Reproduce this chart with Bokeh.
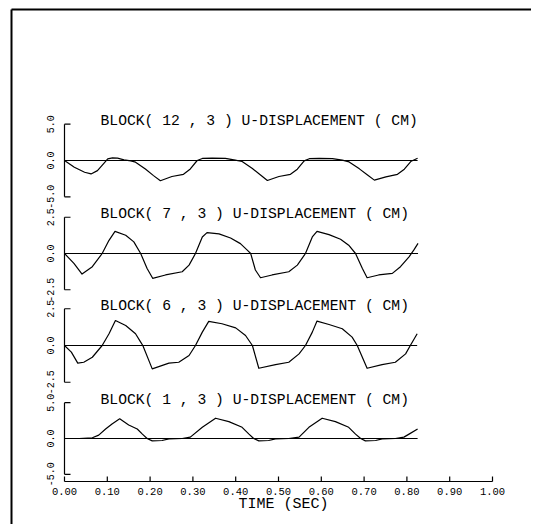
import math
from bokeh.plotting import figure
from bokeh.models import Range1d
from bokeh.core.properties import value
from bokeh.embed import file_html
from bokeh.resources import INLINE

# ---------------- data ----------------
titles = [
    "BLOCK( 12 , 3 ) U-DISPLACEMENT ( CM)",
    "BLOCK( 7 , 3 ) U-DISPLACEMENT ( CM)",
    "BLOCK( 6 , 3 ) U-DISPLACEMENT ( CM)",
    "BLOCK( 1 , 3 ) U-DISPLACEMENT ( CM)",
]

t1 = [0.000, 0.023, 0.047, 0.062, 0.077, 0.093, 0.101, 0.112, 0.124, 0.139, 0.155, 0.166,
      0.189, 0.208, 0.224, 0.251, 0.278, 0.294, 0.310, 0.322, 0.345, 0.376, 0.399, 0.415,
      0.439, 0.458, 0.474, 0.501, 0.528, 0.544, 0.560, 0.572, 0.595, 0.626, 0.649, 0.665,
      0.689, 0.708, 0.724, 0.751, 0.778, 0.794, 0.810, 0.825]
v1 = [0.00, -0.93, -1.62, -1.85, -1.39, -0.32, 0.23, 0.37, 0.32, 0.09, -0.05, -0.23,
      -1.16, -2.08, -2.78, -2.20, -1.90, -1.16, 0.00, 0.28, 0.32, 0.28, 0.05, -0.14,
      -1.10, -2.00, -2.75, -2.20, -1.90, -1.20, -0.05, 0.25, 0.30, 0.25, 0.05, -0.20,
      -1.15, -2.00, -2.70, -2.25, -1.90, -1.20, -0.10, 0.30]

t2 = [0.000, 0.022, 0.041, 0.065, 0.088, 0.104, 0.118, 0.143, 0.162, 0.178, 0.193, 0.206,
      0.236, 0.275, 0.291, 0.306, 0.322, 0.333, 0.361, 0.388, 0.411, 0.427, 0.435, 0.446,
      0.458, 0.485, 0.524, 0.544, 0.563, 0.579, 0.590, 0.618, 0.645, 0.664, 0.680, 0.696,
      0.707, 0.734, 0.766, 0.785, 0.805, 0.816, 0.826]
v2 = [0.00, -0.68, -1.42, -0.91, 0.00, 0.91, 1.53, 1.26, 0.80, 0.00, -1.03, -1.71,
      -1.48, -1.26, -0.80, 0.00, 1.14, 1.44, 1.35, 1.07, 0.68, 0.23, 0.00, -1.14,
      -1.67, -1.48, -1.26, -0.80, 0.00, 1.14, 1.53, 1.30, 0.98, 0.57, 0.00, -1.03,
      -1.67, -1.48, -1.37, -0.91, -0.23, 0.23, 0.70]

t3 = [0.000, 0.016, 0.031, 0.045, 0.065, 0.088, 0.104, 0.119, 0.143, 0.166, 0.178, 0.183,
      0.205, 0.244, 0.267, 0.291, 0.306, 0.322, 0.337, 0.368, 0.400, 0.423, 0.439, 0.454,
      0.493, 0.524, 0.548, 0.563, 0.579, 0.590, 0.618, 0.649, 0.672, 0.684, 0.707, 0.742,
      0.773, 0.797, 0.808, 0.824]
v3 = [0.00, -0.45, -1.20, -1.14, -0.80, 0.00, 0.80, 1.70, 1.36, 0.80, 0.23, 0.00,
      -1.59, -1.20, -1.14, -0.68, 0.00, 0.91, 1.64, 1.48, 1.20, 0.68, 0.00, -1.55,
      -1.30, -1.14, -0.57, 0.00, 0.91, 1.66, 1.43, 1.14, 0.57, 0.00, -1.55, -1.30,
      -1.14, -0.57, 0.00, 0.80]

t4 = [0.000, 0.034, 0.065, 0.080, 0.096, 0.111, 0.129, 0.150, 0.170, 0.182, 0.193, 0.205,
      0.228, 0.244, 0.275, 0.294, 0.322, 0.353, 0.384, 0.415, 0.431, 0.442, 0.454, 0.477,
      0.493, 0.524, 0.548, 0.571, 0.602, 0.633, 0.664, 0.680, 0.692, 0.703, 0.727, 0.742,
      0.773, 0.793, 0.805, 0.825]
v4 = [0.00, 0.00, 0.10, 0.47, 1.32, 2.03, 2.74, 1.89, 1.32, 0.61, 0.00, -0.33,
      -0.28, -0.05, 0.00, 0.19, 1.56, 2.83, 2.36, 1.56, 0.61, 0.00, -0.33, -0.28,
      -0.05, 0.00, 0.19, 1.56, 2.83, 2.36, 1.56, 0.61, 0.00, -0.33, -0.28, -0.05,
      0.00, 0.19, 0.61, 1.32]

series_t = [t1, t2, t3, t4]
series_v = [v1, v2, v3, v4]

y_limits = [5.0, 2.5, 2.5, 5.0]
y_tick_labels = [["5.0", "0.0", "-5.0"],
                 ["2.5", "0.0", "-2.5"],
                 ["2.5", "0.0", "-2.5"],
                 ["5.0", "0.0", "-5.0"]]

x_ticks = [0.0, 0.1, 0.2, 0.3, 0.4, 0.5, 0.6, 0.7, 0.8, 0.9, 1.0]
x_tick_labels = ["0.00", "0.10", "0.20", "0.30", "0.40", "0.50",
                 "0.60", "0.70", "0.80", "0.90", "1.00"]
x_title = "TIME (SEC)"

# ---------------- layout (canvas pixel coordinates) ----------------
W, H = 531, 524
T0_PX, T1_PX = 64.0, 492.0          # canvas x of t=0 and t=1
panel_zero_px = [160.0, 253.0, 345.0, 438.0]
panel_px_per_unit = [7.27, 14.5, 14.7, 7.17]
AXIS_Y = 481.0

FONT = value("Liberation Mono")

p = figure(width=W, height=H,
           x_range=Range1d(0, W), y_range=Range1d(H, 0),
           x_axis_type=None, y_axis_type=None,
           output_backend="svg", toolbar_location=None, min_border=0)
p.outline_line_color = None
p.background_fill_color = "white"
p.border_fill_color = "white"

tpx = T1_PX - T0_PX
p.extra_x_ranges = {"t": Range1d((0 - T0_PX) / tpx, (W - T0_PX) / tpx)}

# outer frame (top and left edges)
p.segment(x0=[11, 11], y0=[9, 9], x1=[W, 11], y1=[9, H],
          line_color="black", line_width=2)

tick_len_t = 6.0 / tpx

for k in range(4):
    name = f"p{k}"
    z = panel_zero_px[k]
    s = panel_px_per_unit[k]
    p.extra_y_ranges[name] = Range1d((z - H) / s, (z - 0) / s)
    lim = y_limits[k]
    tt = series_t[k]
    vv = series_v[k]

    # zero line
    p.line([0.0, max(tt)], [0.0, 0.0], x_range_name="t", y_range_name=name,
           line_color="black", line_width=1.1)
    # curve
    p.line(tt, vv, x_range_name="t", y_range_name=name,
           line_color="black", line_width=1.2, line_join="round")
    # bracket-style y axis
    p.segment(x0=[0.0, 0.0, 0.0], y0=[-lim, lim, -lim],
              x1=[0.0, tick_len_t, tick_len_t], y1=[lim, lim, -lim],
              x_range_name="t", y_range_name=name,
              line_color="black", line_width=1.2)
    # y tick labels (rotated)
    p.text(x=[50, 50, 50], y=[lim, 0.0, -lim], text=y_tick_labels[k],
           y_range_name=name, angle=math.pi / 2,
           text_align="center", text_baseline="middle",
           text_font=FONT, text_font_size="10px", text_color="black")
    # panel title
    p.text(x=[100], y=[lim], text=[titles[k]], y_range_name=name,
           y_offset=-3, text_align="left", text_baseline="alphabetic",
           text_font=FONT, text_font_size="14.7px", text_color="black")

# x axis
p.line([0.0, 1.0], [AXIS_Y, AXIS_Y], x_range_name="t",
       line_color="black", line_width=1.2)
p.segment(x0=x_ticks, y0=[AXIS_Y] * len(x_ticks), x1=x_ticks,
          y1=[AXIS_Y - 5] * len(x_ticks), x_range_name="t",
          line_color="black", line_width=1.2)
p.text(x=x_ticks, y=[AXIS_Y + 10] * len(x_ticks), text=x_tick_labels,
       x_range_name="t", text_align="center", text_baseline="middle",
       text_font=FONT, text_font_size="10.5px", text_color="black")
p.text(x=[283], y=[504], text=[x_title], text_align="center",
       text_baseline="middle", text_font=FONT, text_font_size="15px",
       text_color="black")

open("out.html", "w").write(file_html(p, INLINE))
